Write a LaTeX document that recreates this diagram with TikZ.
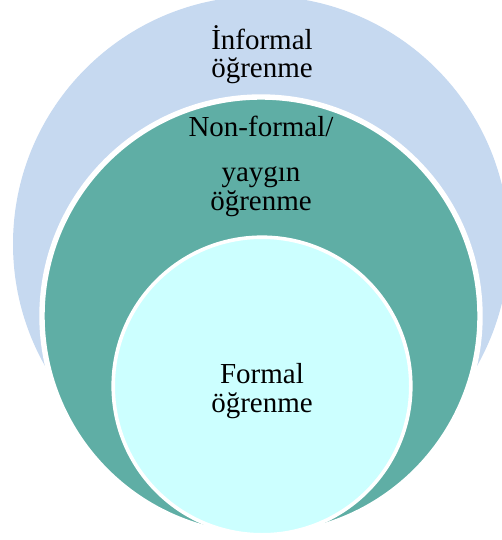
\documentclass[tikz,border=0pt]{standalone}
\usepackage{fontspec}
\setmainfont{Liberation Serif}
\definecolor{infblue}{RGB}{198,217,240}
\definecolor{nonteal}{RGB}{95,174,165}
\definecolor{formcyan}{RGB}{204,255,255}
\begin{document}
\begin{tikzpicture}[x=1pt,y=-1pt,line join=round]
			\tikzset{ring/.style={draw=white},
				every node/.style={anchor=base,inner sep=0pt,
					font=\fontsize{29}{30}\selectfont}}
			\useasboundingbox (0,0) rectangle (502,540);
			\begin{scope}
				\clip (0,0) rectangle (502,540);
				\fill[infblue] (261,244) circle (248);
				\draw[ring,line width=5.4pt,fill=nonteal] (261,316) circle (219);
				\draw[ring,line width=3.6pt,fill=formcyan] (262,386) circle (148.8);
			\end{scope}
			\node (inf1) at (262,50) {İnformal};
			\node (inf2) at (262,78) {öğrenme};
			\node (nonf1) at (261,137) {Non-formal/};
			\node (nonf2) at (261,182) {yaygın};
			\node (nonf3) at (261,210) {öğrenme};
			\node (form1) at (262,383) {Formal};
			\node (form2) at (262,412) {öğrenme};
		\end{tikzpicture}
\end{document}
